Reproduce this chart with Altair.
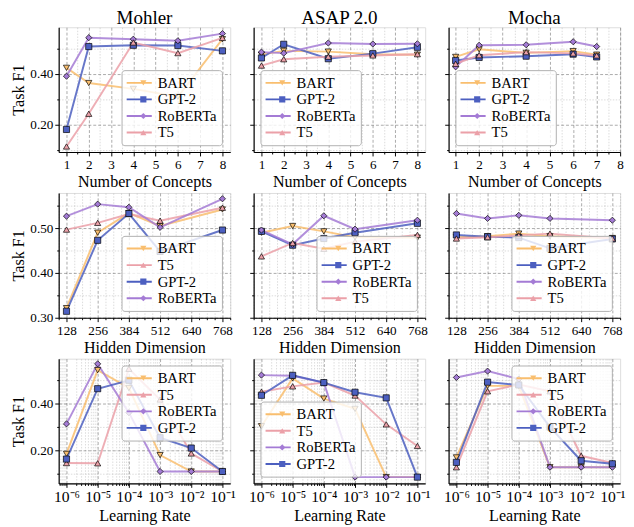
import altair as alt
import pandas as pd

FONT = "Liberation Serif"
MODELS = ["BART", "GPT-2", "RoBERTa", "T5"]
COLORS = {"BART": "#F9BE6E", "GPT-2": "#4C5FC0", "RoBERTa": "#A47BD5", "T5": "#EBA0A8"}
SHAPES = {"BART": "triangle-down", "GPT-2": "square", "RoBERTa": "diamond", "T5": "triangle-up"}
BAND = "M-1,-0.075L1,-0.075L1,0.075L-1,0.075Z"

# ---------------- x values ----------------
concept_x = [1, 2, 4, 6, 8]
concept_x_mocha = [1, 2, 4, 6, 7]
hidden_x = [128, 256, 384, 512, 768]
lr_x = [1e-6, 1e-5, 1e-4, 1e-3, 1e-2, 1e-1]

# ---------------- Row 1: Number of Concepts ----------------
mohler_concepts = {
    "BART": [0.424, 0.364, 0.341, 0.310, 0.537],
    "GPT-2": [0.181, 0.508, 0.513, 0.512, 0.491],
    "RoBERTa": [0.391, 0.543, 0.537, 0.531, 0.559],
    "T5": [0.114, 0.243, 0.524, 0.482, 0.542],
}
asap_concepts = {
    "BART": [0.476, 0.491, 0.488, 0.478, 0.476],
    "GPT-2": [0.463, 0.517, 0.460, 0.480, 0.505],
    "RoBERTa": [0.486, 0.482, 0.522, 0.518, 0.519],
    "T5": [0.433, 0.458, 0.468, 0.473, 0.478],
}
mocha_concepts = {
    "BART": [0.467, 0.497, 0.483, 0.490, 0.476],
    "GPT-2": [0.453, 0.465, 0.470, 0.478, 0.467],
    "RoBERTa": [0.428, 0.513, 0.515, 0.527, 0.508],
    "T5": [0.440, 0.474, 0.486, 0.481, 0.473],
}

# ---------------- Row 2: Hidden Dimension ----------------
mohler_hidden = {
    "BART": [0.321, 0.490, 0.534, 0.505, 0.542],
    "T5": [0.497, 0.512, 0.532, 0.517, 0.546],
    "GPT-2": [0.314, 0.473, 0.533, 0.448, 0.496],
    "RoBERTa": [0.527, 0.554, 0.547, 0.502, 0.566],
}
asap_hidden = {
    "BART": [0.490, 0.505, 0.493, 0.480, 0.479],
    "GPT-2": [0.493, 0.462, 0.477, 0.490, 0.511],
    "RoBERTa": [0.496, 0.464, 0.528, 0.498, 0.518],
    "T5": [0.437, 0.467, 0.454, 0.470, 0.485],
}
mocha_hidden = {
    "BART": [0.480, 0.482, 0.488, 0.482, 0.478],
    "GPT-2": [0.485, 0.481, 0.479, 0.455, 0.476],
    "RoBERTa": [0.533, 0.522, 0.529, 0.522, 0.518],
    "T5": [0.477, 0.480, 0.484, 0.488, 0.477],
}

# ---------------- Row 3: Learning Rate ----------------
mohler_lr = {
    "BART": [0.186, 0.543, 0.467, 0.181, 0.111, 0.111],
    "T5": [0.147, 0.146, 0.549, 0.418, 0.188, 0.111],
    "RoBERTa": [0.314, 0.570, 0.362, 0.111, 0.111, 0.111],
    "GPT-2": [0.164, 0.464, 0.500, 0.255, 0.211, 0.111],
}
asap_lr = {
    "BART": [0.304, 0.508, 0.422, 0.378, 0.087, 0.087],
    "T5": [0.451, 0.474, 0.490, 0.435, 0.312, 0.220],
    "RoBERTa": [0.522, 0.519, 0.490, 0.087, 0.087, 0.087],
    "GPT-2": [0.436, 0.521, 0.490, 0.449, 0.425, 0.087],
}
mocha_lr = {
    "BART": [0.171, 0.476, 0.476, 0.129, 0.129, 0.129],
    "T5": [0.129, 0.453, 0.482, 0.453, 0.178, 0.147],
    "RoBERTa": [0.512, 0.539, 0.505, 0.129, 0.129, 0.129],
    "GPT-2": [0.150, 0.492, 0.480, 0.300, 0.157, 0.144],
}

titles = ["Mohler", "ASAP 2.0", "Mocha"]
x_titles = ["Number of Concepts", "Hidden Dimension", "Learning Rate"]

# tick / grid positions
concept_ticks = [1, 2, 3, 4, 5, 6, 7, 8]
concept_minor = [1.5, 2.5, 3.5, 4.5, 5.5, 6.5, 7.5]
hidden_ticks = [128, 256, 384, 512, 640, 768]
hidden_minor = [96 + 32 * i for i in range(23) if (96 + 32 * i) % 128 != 0]
lr_minor = [k * 10.0 ** e for e in range(-7, 0) for k in range(2, 10)
            if 10 ** -6.25 <= k * 10.0 ** e <= 10 ** -0.75]
y_major = [[0.2, 0.4], [0.3, 0.4, 0.5], [0.2, 0.4]]
y_minor = [[0.1, 0.3, 0.5], [0.35, 0.45, 0.55], [0.1, 0.3, 0.5]]
y_domains = [[0.092, 0.584], [0.2995, 0.579], [0.06, 0.592]]

LR_LABELS = ("datum.value < 3e-6 ? '10⁻⁶' : datum.value < 3e-5 ? '10⁻⁵' : "
             "datum.value < 3e-4 ? '10⁻⁴' : datum.value < 3e-3 ? '10⁻³' : "
             "datum.value < 3e-2 ? '10⁻²' : '10⁻¹'")

# legend box placement inside each panel (pixels from the plot's top-left)
LEG_POS = {"bottom-right": (64.5, 44), "bottom-left": (7, 44), "top-right": (64.5, 7)}
LEG_PAD = 5
BAND_HALF = 13
MARK_SIZE = 40


def major_axis(orient, values, labels, title, fmt=None, label_expr=None, label_size=13.5):
    kw = dict(orient=orient, values=values, grid=True, gridColor="#3a3a3a",
              gridDash=[3, 2], gridWidth=0.8, gridOpacity=0.55,
              domain=True, domainColor="black", domainWidth=1.2,
              ticks=True, tickColor="black", tickSize=4, tickWidth=1,
              labels=labels, labelFont=FONT, labelFontSize=label_size, labelColor="black",
              labelPadding=2, labelFlush=False, labelOverlap=False,
              title=title, titleFont=FONT, titleFontSize=16.5,
              titleFontWeight="normal", titleColor="black", titlePadding=3)
    if fmt:
        kw["format"] = fmt
    if label_expr:
        kw["labelExpr"] = label_expr
    return alt.Axis(**kw)


def minor_axis(orient, values):
    return alt.Axis(orient=orient, values=values, grid=True, gridColor="#9a9a9a",
                    gridDash=[1.5, 1.5], gridWidth=0.6, gridOpacity=0.6,
                    domain=False, ticks=True, tickSize=2, tickColor="black",
                    labels=False, title=None)


def make_df(xs, series, order):
    rows = []
    for m in order:
        for x, y in zip(xs, series[m]):
            rows.append({"x": x, "y": y, "model": m})
    return pd.DataFrame(rows)


def panel(r, c, xs, series, order, orient):
    df = make_df(xs, series, order)
    if r == 0:
        xdom = [0.7, 8.0] if c == 2 else [0.65, 8.35]
        xscale = alt.Scale(domain=xdom, nice=False, zero=False)
        xmaj = major_axis("bottom", concept_ticks, True, x_titles[r])
        xmin = minor_axis("bottom", concept_minor)
    elif r == 1:
        xscale = alt.Scale(domain=[96, 800], nice=False, zero=False)
        xmaj = major_axis("bottom", hidden_ticks, True, x_titles[r])
        xmin = minor_axis("bottom", hidden_minor)
    else:
        xscale = alt.Scale(type="log", domain=[10 ** -6.25, 10 ** -0.75], nice=False)
        xmaj = major_axis("bottom", lr_x, True, x_titles[r], label_expr=LR_LABELS,
                          label_size=16)
        xmin = minor_axis("bottom", lr_minor)
    yscale = alt.Scale(domain=y_domains[r], nice=False, zero=False)
    ymaj = major_axis("left", y_major[r], c == 0, "Task F1" if c == 0 else None,
                      fmt=".2f")
    ymin = minor_axis("left", y_minor[r])

    data_color = alt.Scale(domain=MODELS, range=[COLORS[m] for m in MODELS])
    base = alt.Chart(df)
    lines = base.mark_line(strokeWidth=2, opacity=0.85).encode(
        x=alt.X("x:Q", scale=xscale, axis=xmin),
        y=alt.Y("y:Q", scale=yscale, axis=ymin),
        color=alt.Color("model:N", scale=data_color, legend=None),
    )
    points = base.mark_point(filled=True, size=MARK_SIZE, stroke="black",
                             strokeWidth=0.7, opacity=1).encode(
        x=alt.X("x:Q", scale=xscale, axis=xmaj),
        y=alt.Y("y:Q", scale=yscale, axis=ymaj),
        color=alt.Color("model:N", scale=data_color, legend=None),
        shape=alt.Shape("model:N", scale=alt.Scale(domain=MODELS,
                        range=[SHAPES[m] for m in MODELS]), legend=None),
    )
    lx, ly = LEG_POS[orient]
    common = dict(orient="none", title=None, labelFont=FONT, labelFontSize=15,
                  rowPadding=1, labelOffset=6, clipHeight=16, symbolOpacity=1)
    # legend 1: frame, labels and the line sample
    leg_lines = alt.Legend(legendX=lx, legendY=ly, padding=LEG_PAD,
                           fillColor="rgba(255,255,255,0.8)", strokeColor="#b0b0b0",
                           cornerRadius=3, labelColor="black", symbolType=BAND,
                           symbolSize=(2 * BAND_HALF) ** 2, symbolStrokeWidth=0,
                           **common)
    # legend 2: the markers, with black edges, on top of the line samples
    leg_marks = alt.Legend(legendX=lx + LEG_PAD + BAND_HALF - MARK_SIZE ** 0.5 / 2,
                           legendY=ly + LEG_PAD, padding=0, labelOpacity=0,
                           symbolSize=MARK_SIZE, symbolStrokeColor="black",
                           symbolStrokeWidth=0.7, **common)
    leg_scale = alt.Scale(domain=order, range=[COLORS[m] for m in order])
    hidden = base.transform_filter("false")
    legend_lines = hidden.mark_point(filled=True, size=(2 * BAND_HALF) ** 2).encode(
        x=alt.X("x:Q", scale=xscale, axis=None),
        y=alt.Y("y:Q", scale=yscale, axis=None),
        color=alt.Color("model:N", scale=leg_scale, legend=leg_lines),
    )
    legend_marks = hidden.mark_point(filled=True, size=MARK_SIZE, stroke="black",
                                     strokeWidth=0.7).encode(
        x=alt.X("x:Q", scale=xscale, axis=None),
        y=alt.Y("y:Q", scale=yscale, axis=None),
        color=alt.Color("model:N", scale=leg_scale, legend=leg_marks),
        shape=alt.Shape("model:N", scale=alt.Scale(domain=order,
                        range=[SHAPES[m] for m in order]), legend=leg_marks),
    )
    props = dict(width=176, height=128)
    if r == 0:
        props["title"] = alt.Title(titles[c], font=FONT, fontSize=19.5,
                                   fontWeight="normal", color="black", offset=-1)
    return (alt.layer(lines, points, legend_lines, legend_marks)
            .resolve_scale(color="independent", shape="independent")
            .resolve_axis(x="independent", y="independent")
            .properties(**props))


grid = [
    [(concept_x, mohler_concepts, ["BART", "GPT-2", "RoBERTa", "T5"], "bottom-right"),
     (concept_x, asap_concepts, ["BART", "GPT-2", "RoBERTa", "T5"], "bottom-left"),
     (concept_x_mocha, mocha_concepts, ["BART", "GPT-2", "RoBERTa", "T5"], "bottom-left")],
    [(hidden_x, mohler_hidden, ["BART", "T5", "GPT-2", "RoBERTa"], "bottom-right"),
     (hidden_x, asap_hidden, ["BART", "GPT-2", "RoBERTa", "T5"], "bottom-right"),
     (hidden_x, mocha_hidden, ["BART", "GPT-2", "RoBERTa", "T5"], "bottom-right")],
    [(lr_x, mohler_lr, ["BART", "T5", "RoBERTa", "GPT-2"], "top-right"),
     (lr_x, asap_lr, ["BART", "T5", "RoBERTa", "GPT-2"], "bottom-left"),
     (lr_x, mocha_lr, ["BART", "T5", "RoBERTa", "GPT-2"], "top-right")],
]

panels = []
for r, row in enumerate(grid):
    for c, (xs, series, order, orient) in enumerate(row):
        panels.append(panel(r, c, xs, series, order, orient))

chart = (alt.concat(*panels, columns=3, spacing={"row": 42, "column": 24},
                    bounds="flush")
         .resolve_scale(color="independent", shape="independent")
         .properties(padding={"left": 2, "top": -7, "right": 0, "bottom": 0})
         .configure_view(stroke=None)
         .configure(font=FONT))

chart.save("out.html", embed_options={"renderer": "svg", "actions": False})
